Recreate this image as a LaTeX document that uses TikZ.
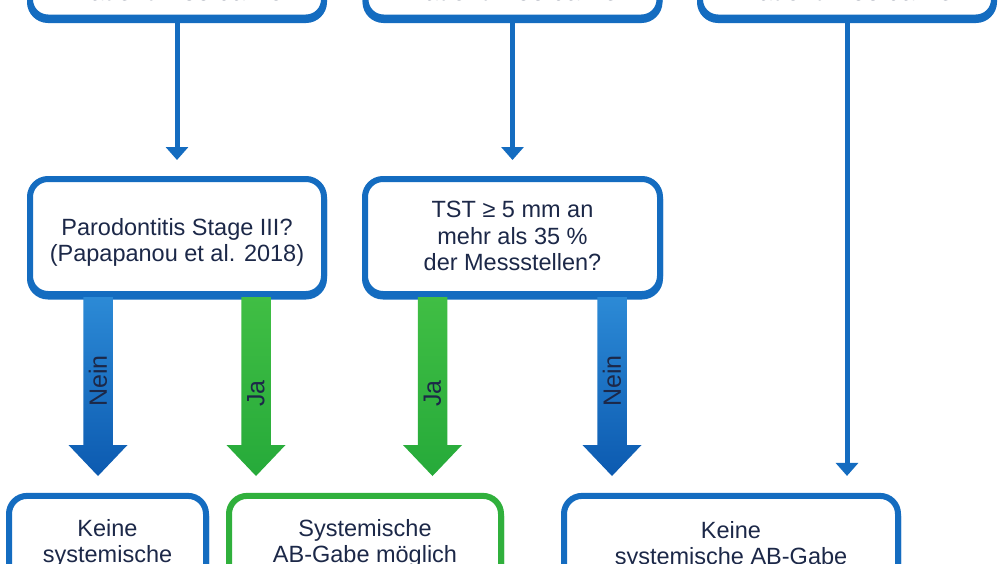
\documentclass[tikz,border=0pt]{standalone}
\usepackage{fontspec}
\setmainfont{Liberation Sans}
\usetikzlibrary{arrows.meta,calc}
\definecolor{boxblue}{RGB}{20,108,192}
\definecolor{txt}{RGB}{28,40,72}
\definecolor{grn}{RGB}{48,176,60}
\definecolor{ablueT}{RGB}{44,138,214}
\definecolor{ablueB}{RGB}{12,90,176}
\definecolor{agrnT}{RGB}{64,190,68}
\definecolor{agrnB}{RGB}{38,170,58}
\newcommand\bigarr[3]{%
  \shade[#3] ($(#2 |- #1.south)+(-14.75,0)$) -- ($(#2)+(-14.75,-31)$) -- ($(#2)+(-29.5,-31)$) -- (#2)
    -- ($(#2)+(29.5,-31)$) -- ($(#2)+(14.75,-31)$) -- ($(#2 |- #1.south)+(14.75,0)$) -- cycle;}
\begin{document}
\begin{tikzpicture}[x=1pt,y=-1pt,
  box/.style={draw=#1, line width=6pt, rounded corners=18pt, fill=white, inner sep=0pt,
    preaction={draw=#1, line width=6pt, transform canvas={yshift=-2.5pt}}},
  boxtxt/.style={text=txt, align=center, inner sep=0pt, font=\fontsize{23.5}{26.5}\selectfont},
  toptxt/.style={text=txt, align=center, inner sep=0pt, font=\fontsize{26}{30}\selectfont},
  lbl/.style={text=txt, inner sep=0pt, rotate=90, font=\fontsize{25}{28}\selectfont},
  thinarrow/.style={draw=boxblue, line width=5pt, -{Triangle[width=22pt,length=13pt]}, shorten <=-2pt},
  blueshade/.style={top color=ablueT, bottom color=ablueB},
  greenshade/.style={top color=agrnT, bottom color=agrnB}]
\useasboundingbox (0,0) rectangle (1000,563);
\fill[white] (0,0) rectangle (1000,563);
% top boxes
\node[box=boxblue, minimum width=294pt, minimum height=55pt] (top1) at (177,-10) {};
\node[box=boxblue, minimum width=294pt, minimum height=55pt] (top2) at (512.5,-10) {};
\node[box=boxblue, minimum width=294pt, minimum height=55pt] (top3) at (847,-10) {};
\node[toptxt] (tt1) at (178,-8.5) {Patient ≤ 35 Jahre};
\node[toptxt] (tt2) at (512.5,-8.5) {Patient ≤ 55 Jahre};
\node[toptxt] (tt3) at (847,-8.5) {Patient > 55 Jahre};
% middle boxes
\node[box=boxblue, minimum width=294pt, minimum height=115pt] (mid1) at (177,236.5) {};
\node[box=boxblue, minimum width=295pt, minimum height=115pt] (mid2) at (512.5,236.5) {};
\node[boxtxt] (mt1) at (177,242.3) {Parodontitis Stage III?\\(Papapanou et al. 2018)};
\node[boxtxt] (mt2) at (512.5,236.1) {TST ≥ 5 mm an\\mehr als 35 \%\\der Messstellen?};
% bottom boxes
\node[box=boxblue, minimum width=197pt, minimum height=124pt] (bot1) at (107.5,557.9) {};
\node[box=grn, minimum width=272pt, minimum height=124pt] (bot2) at (365,557.9) {};
\node[box=boxblue, minimum width=334pt, minimum height=124pt] (bot3) at (731,557.9) {};
\node[boxtxt] (bt1) at (107.5,543.4) {Keine\\systemische};
\node[boxtxt] (bt2) at (365,543.4) {Systemische\\AB-Gabe möglich};
\node[boxtxt] (bt3) at (731,545.4) {Keine\\systemische AB-Gabe};
% thin arrows
\draw[thinarrow, shorten >=16pt] (top1.south) -- (mid1.north);
\draw[thinarrow, shorten >=16pt] (top2.south) -- (mid2.north);
\draw[thinarrow, shorten >=17pt] (top3.south) -- (top3.south |- bot3.north);
% big arrows
\coordinate (n1) at (98,476);
\coordinate (j1) at (256,476);
\coordinate (j2) at (432.5,476);
\coordinate (n2) at (612,476);
\bigarr{mid1}{n1}{blueshade}
\bigarr{mid1}{j1}{greenshade}
\bigarr{mid2}{j2}{greenshade}
\bigarr{mid2}{n2}{blueshade}
\node[lbl] (ln1) at (98,381) {Nein};
\node[lbl] (lj1) at (256,393.5) {Ja};
\node[lbl] (lj2) at (432.5,393.5) {Ja};
\node[lbl] (ln2) at (612,381) {Nein};
\end{tikzpicture}
\end{document}
